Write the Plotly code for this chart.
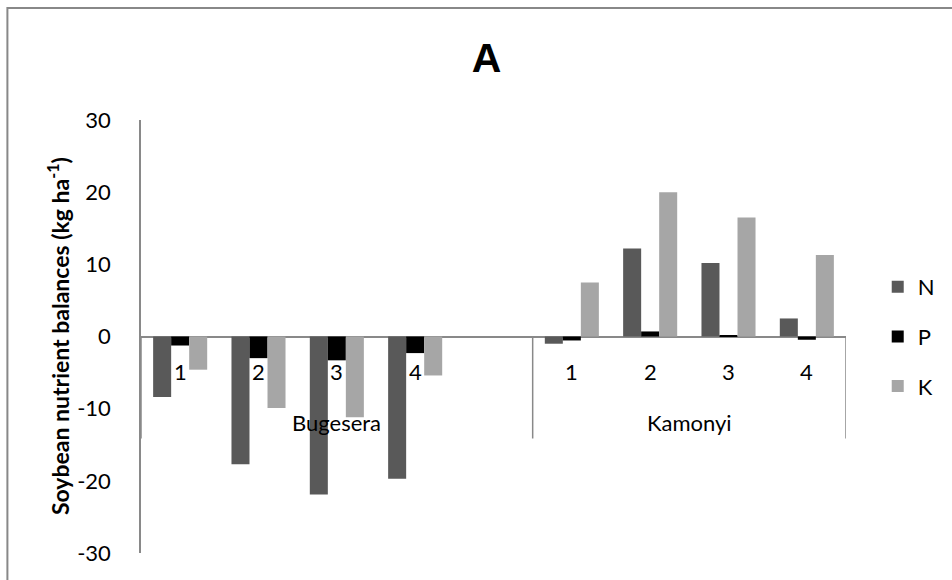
import plotly.graph_objects as go

# ---- data ----
sites = ["Bugesera", "Kamonyi"]
plots = ["1", "2", "3", "4"]
N_bug = [-8.4, -17.7, -21.9, -19.7]
P_bug = [-1.25, -3.0, -3.3, -2.3]
K_bug = [-4.6, -9.9, -11.2, -5.4]
N_kam = [-1.0, 12.2, 10.2, 2.5]
P_kam = [-0.55, 0.7, 0.1, -0.45]
K_kam = [7.5, 20.0, 16.5, 11.3]
series_names = ["N", "P", "K"]
series_colors = ["#595959", "#000000", "#A6A6A6"]
y_ticks = [-30, -20, -10, 0, 10, 20, 30]

FONT = "Lato"
FS = 22

# category positions: Bugesera 1-4, an empty slot, Kamonyi 1-4
x_bug = list(range(len(plots)))
x_kam = [len(plots) + 1 + i for i in range(len(plots))]
xs = x_bug + x_kam
n_slots = len(plots) * 2 + 1
series_vals = [N_bug + N_kam, P_bug + P_kam, K_bug + K_kam]

fig = go.Figure()
for name, col, vals in zip(series_names, series_colors, series_vals):
    fig.add_trace(go.Bar(x=xs, y=vals, name=name, marker=dict(color=col, line=dict(width=0)),
                         legendgroup=name))

fig.update_layout(
    width=952, height=580,
    margin=dict(l=141, r=104, t=120, b=27),
    paper_bgcolor="white", plot_bgcolor="white",
    barmode="group", bargap=0.31, bargroupgap=0,
    font=dict(family=FONT, size=FS, color="#000000"),
    showlegend=True,
    legend=dict(x=1.045, y=0.5, xanchor="left", yanchor="middle",
                font=dict(family=FONT, size=FS), tracegroupgap=18,
                bgcolor="rgba(0,0,0,0)"),
    title=dict(text="<b>A</b>", x=0.511, xanchor="center", y=0.9, yanchor="middle",
               xref="container", yref="container",
               font=dict(family="Liberation Sans", size=41, color="#000000")),
)
fig.update_xaxes(range=[-0.5, n_slots - 0.5], showticklabels=False, showgrid=False,
                 zeroline=False, showline=False, ticks="")
fig.update_yaxes(range=[-30, 30], tickvals=y_ticks, ticktext=[str(v) for v in y_ticks],
                 showgrid=False,
                 showline=True, linecolor="#898989", linewidth=1.5,
                 zeroline=True, zerolinecolor="#898989", zerolinewidth=1.5,
                 ticks="", ticklabelstandoff=24,
                 tickfont=dict(family=FONT, size=FS, color="#000000"))

# inner (plot number) labels
for xi, lab in zip(xs, plots + plots):
    fig.add_annotation(x=xi, y=0, xref="x", yref="y", text=lab, showarrow=False,
                       yanchor="middle", yshift=-35,
                       font=dict(family=FONT, size=FS, color="#000000"))
# outer (site) labels
for site, x0, x1 in [(sites[0], -0.5, len(plots) + 0.5), (sites[1], len(plots) + 0.5, n_slots - 0.5)]:
    fig.add_annotation(x=(x0 + x1) / 2, y=0, xref="x", yref="y", text=site, showarrow=False,
                       yanchor="middle", yshift=-86,
                       font=dict(family=FONT, size=FS, color="#000000"))
# group dividers
for xb in [-0.5, len(plots) + 0.5, n_slots - 0.5]:
    fig.add_shape(type="line", xref="x", yref="y", x0=xb, x1=xb,
                  ysizemode="pixel", yanchor=0, y0=0, y1=-102,
                  line=dict(color="#898989", width=1.5))

# y-axis title
fig.add_annotation(xref="paper", yref="paper", x=-0.117, y=0.5,
                   text="<b>Soybean nutrient balances (kg ha<sup>-1</sup>)</b>",
                   textangle=-90, showarrow=False, xanchor="center", yanchor="middle",
                   font=dict(family=FONT, size=23, color="#000000"))

# chart border
fig.add_shape(type="rect", xref="paper", yref="paper",
              x0=-0.1895, x1=1.5, y0=-0.5, y1=1.2587,
              line=dict(color="#888888", width=2), layer="below")

fig.write_html("out.html")
